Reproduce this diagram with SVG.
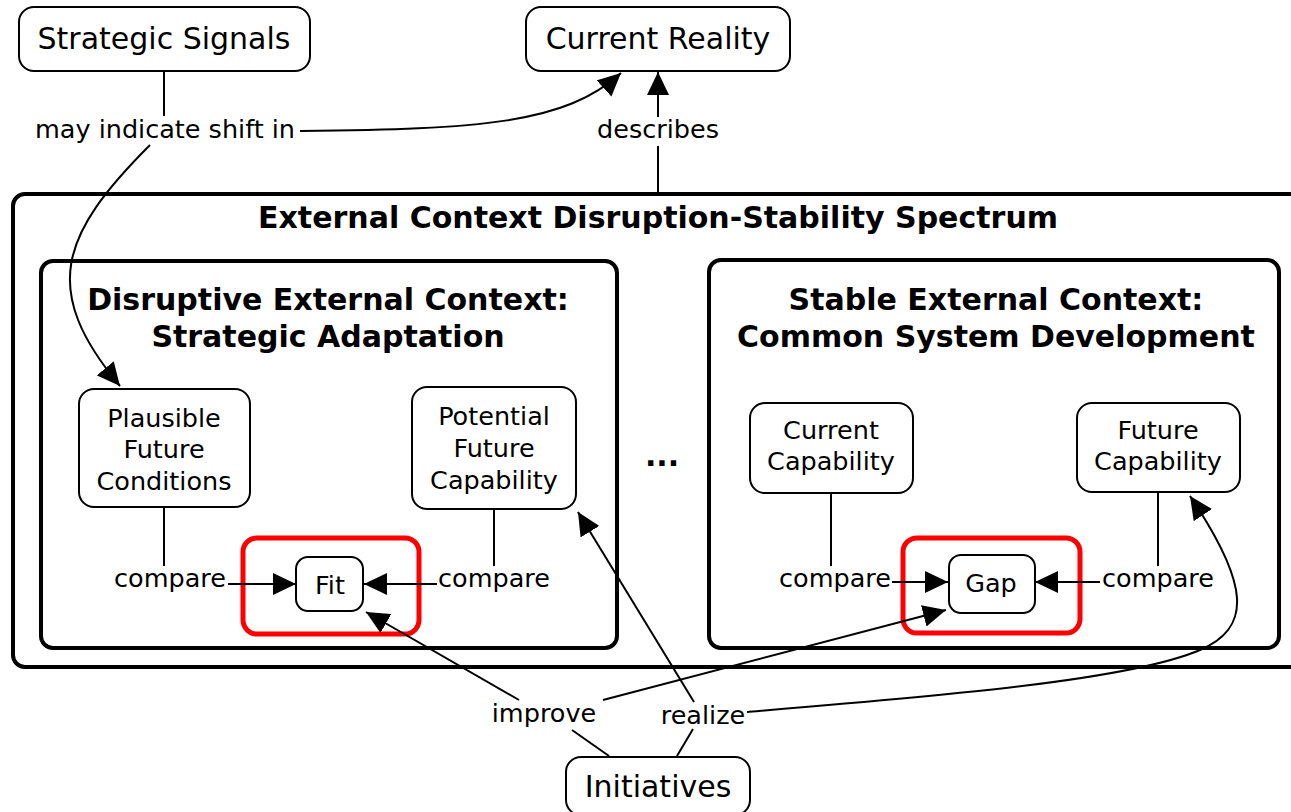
<svg xmlns="http://www.w3.org/2000/svg" width="1291" height="812" viewBox="0 0 1291 812">
<defs>
<marker id="arr" markerUnits="userSpaceOnUse" markerWidth="24" markerHeight="22" refX="23" refY="11" orient="auto">
<path d="M0,0 L23,11 L0,22 z" fill="#000"/>
</marker>
<style>
text{font-family:"DejaVu Sans","Verdana",sans-serif;fill:#000;text-anchor:middle}
.top{font-size:30px}
.n{font-size:25.5px}
.lbl{font-size:25.5px}
.ttl{font-size:30px;font-weight:bold}
.node{fill:#fff;stroke:#000;stroke-width:2}
.cont{fill:none;stroke:#000;stroke-width:4}
.red{fill:none;stroke:#f00;stroke-width:5}
.c{fill:none;stroke:#000;stroke-width:2}
.ca{fill:none;stroke:#000;stroke-width:2;marker-end:url(#arr)}
</style>
</defs>
<rect width="1291" height="812" fill="#fff"/>

<g id="outer">
<rect class="cont" x="13" y="194" width="1292" height="473" rx="12"/>
<text class="ttl" x="658" y="228">External Context Disruption-Stability Spectrum</text>
</g>
<g id="disruptive">
<rect class="cont" x="41" y="261" width="576" height="387" rx="12"/>
<text class="ttl" x="328" y="310">Disruptive External Context:</text>
<text class="ttl" x="328" y="347">Strategic Adaptation</text>
</g>
<g id="stable">
<rect class="cont" x="709" y="260" width="570" height="388" rx="12"/>
<text class="ttl" x="996" y="310">Stable External Context:</text>
<text class="ttl" x="996" y="347">Common System Development</text>
</g>
<g id="ellipsis"><text class="ttl" x="662" y="466">...</text></g>

<g id="fit-highlight"><rect class="red" x="243" y="538" width="176" height="96" rx="14"/></g>
<g id="gap-highlight"><rect class="red" x="903" y="538" width="177" height="95" rx="14"/></g>

<g id="connectors">
<line class="c" x1="164" y1="71" x2="164" y2="116"/>
<path class="ca" d="M300,131 C480,129 565,124 621,73"/>
<path class="ca" d="M150,145 C60,235 40,290 120,386"/>
<line class="c" x1="658" y1="193" x2="658" y2="146"/>
<line class="ca" x1="658" y1="117" x2="658" y2="72"/>
<line class="c" x1="164" y1="507" x2="164" y2="566"/>
<line class="ca" x1="228" y1="584" x2="296" y2="584"/>
<line class="c" x1="494" y1="509" x2="494" y2="566"/>
<line class="ca" x1="437" y1="584" x2="364" y2="584"/>
<line class="c" x1="831" y1="493" x2="831" y2="566"/>
<line class="ca" x1="892" y1="582" x2="948" y2="582"/>
<line class="c" x1="1158" y1="492" x2="1158" y2="566"/>
<line class="ca" x1="1100" y1="582" x2="1035" y2="582"/>
<line class="c" x1="609" y1="756" x2="572" y2="730"/>
<line class="ca" x1="519" y1="700" x2="366" y2="612"/>
<line class="ca" x1="603" y1="700" x2="946" y2="610"/>
<line class="c" x1="677" y1="756" x2="693" y2="729"/>
<line class="ca" x1="694" y1="702" x2="578" y2="512"/>
<path class="ca" d="M747,712 C950,695 1130,680 1200,650 C1252,628 1250,585 1190,496"/>
</g>

<g id="strategic-signals">
<rect class="node" x="19" y="7" width="291" height="64" rx="15"/>
<text class="top" x="164" y="49">Strategic Signals</text>
</g>
<g id="current-reality">
<rect class="node" x="526" y="7" width="264" height="64" rx="15"/>
<text class="top" x="658" y="49">Current Reality</text>
</g>
<g id="label-shift"><text class="lbl" x="165" y="138">may indicate shift in</text></g>
<g id="label-describes"><text class="lbl" x="658" y="138">describes</text></g>

<g id="plausible">
<rect class="node" x="79" y="389" width="171" height="118" rx="15"/>
<text class="n" x="164" y="427">Plausible</text>
<text class="n" x="164" y="458">Future</text>
<text class="n" x="164" y="490">Conditions</text>
</g>
<g id="potential">
<rect class="node" x="412" y="387" width="164" height="122" rx="15"/>
<text class="n" x="494" y="425">Potential</text>
<text class="n" x="494" y="457">Future</text>
<text class="n" x="494" y="489">Capability</text>
</g>
<g id="fit">
<rect class="node" x="296" y="557" width="67" height="54" rx="12"/>
<text class="n" x="330" y="594">Fit</text>
</g>
<g id="label-compare-1"><text class="lbl" x="170" y="587">compare</text></g>
<g id="label-compare-2"><text class="lbl" x="494" y="587">compare</text></g>

<g id="current-capability">
<rect class="node" x="750" y="403" width="163" height="90" rx="15"/>
<text class="n" x="831" y="439">Current</text>
<text class="n" x="831" y="470">Capability</text>
</g>
<g id="future-capability">
<rect class="node" x="1077" y="403" width="163" height="89" rx="15"/>
<text class="n" x="1158" y="439">Future</text>
<text class="n" x="1158" y="470">Capability</text>
</g>
<g id="gap">
<rect class="node" x="949" y="555" width="86" height="58" rx="12"/>
<text class="n" x="991" y="592">Gap</text>
</g>
<g id="label-compare-3"><text class="lbl" x="835" y="587">compare</text></g>
<g id="label-compare-4"><text class="lbl" x="1158" y="587">compare</text></g>

<g id="label-improve"><text class="lbl" x="544" y="722">improve</text></g>
<g id="label-realize"><text class="lbl" x="703" y="724">realize</text></g>
<g id="initiatives">
<rect class="node" x="566" y="757" width="184" height="58" rx="15"/>
<text class="top" x="658" y="797">Initiatives</text>
</g>
</svg>
